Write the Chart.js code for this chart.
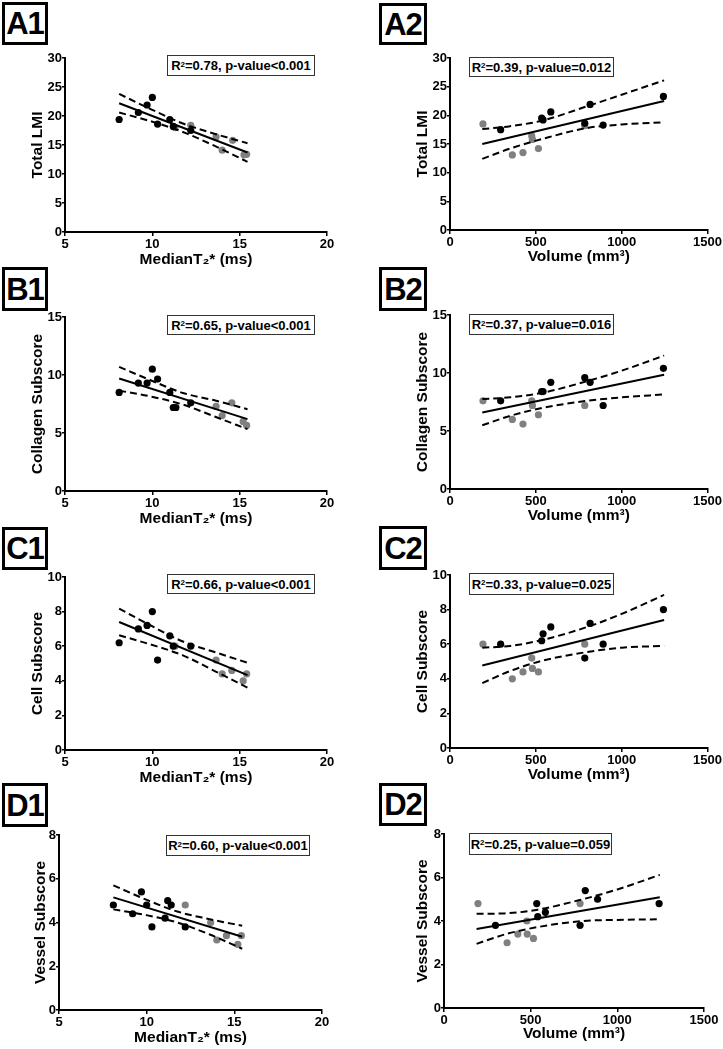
<!DOCTYPE html>
<html><head><meta charset="utf-8">
<script src="https://cdn.jsdelivr.net/npm/chart.js@4.4.0/dist/chart.umd.min.js"></script>
<style>
html,body{margin:0;padding:0;background:#fff;}
body{width:723px;height:1049px;position:relative;overflow:hidden;font-family:"Liberation Sans",Arial,sans-serif;}
canvas{position:absolute;}
.lbl{position:absolute;box-sizing:border-box;border:3px solid #000;font-weight:bold;font-size:31px;line-height:1;display:flex;align-items:center;justify-content:center;letter-spacing:-1px;color:#000;background:#fff;}
.stat{position:absolute;box-sizing:border-box;border:1px solid #333;font-weight:bold;font-size:13px;display:flex;align-items:center;justify-content:center;white-space:nowrap;background:#fff;color:#000;}
.stat sup{font-size:8px;line-height:1;position:relative;top:-1px;vertical-align:top;}
</style></head><body>
<script>
// ---------- tick labels ----------
const t2Ticks = [5, 10, 15, 20];
const volTicks = [0, 500, 1000, 1500];
const lmiTicks = [0, 5, 10, 15, 20, 25, 30];
const collagenTicks = [0, 5, 10, 15];
const cellTicks = [0, 2, 4, 6, 8, 10];
const vesselTicks = [0, 2, 4, 6, 8];

// ---------- A1: Total LMI vs MedianT2* ----------
const a1Black = [[8.1,19.4],[9.2,20.6],[9.7,21.9],[10.0,23.2],[10.3,18.6],[11.0,19.4],[11.2,18.2],[12.2,17.5]];
const a1Gray  = [[11.3,18.0],[12.2,18.4],[13.65,16.4],[14.0,14.1],[14.6,15.8],[15.25,13.3],[15.4,13.4]];
const a1Fit   = [[8.1,22.2],[15.45,13.7]];
const a1Upper = [[8.1,23.8],[9.9,21.2],[11.75,18.7],[13.6,16.9],[15.45,15.3]];
const a1Lower = [[8.1,20.6],[9.9,19.1],[11.75,17.25],[13.6,14.8],[15.45,12.1]];

// ---------- A2: Total LMI vs Volume ----------
const a2Black = [[295,17.5],[534,19.5],[542,19.2],[587,20.6],[785,18.6],[816,21.9],[892,18.3],[1243,23.3]];
const a2Gray  = [[192,18.5],[363,13.1],[425,13.5],[476,16.4],[480,15.8],[515,14.2],[785,18.2]];
const a2Fit   = [[188,15.0],[1247,22.5]];
const a2Upper = [[188,17.6],[350,18.1],[540,19.1],[800,21.6],[1000,23.6],[1247,26.1]];
const a2Lower = [[188,12.4],[350,14.2],[540,15.9],[800,17.8],[1000,18.4],[1247,18.8]];

// ---------- B1: Collagen Subscore vs MedianT2* ----------
const b1Black = [[8.1,8.5],[9.2,9.3],[9.7,9.3],[10.0,10.5],[10.3,9.65],[11.0,8.5],[11.2,7.2],[11.35,7.2],[12.2,7.6]];
const b1Gray  = [[13.65,7.3],[14.0,6.5],[14.55,7.6],[15.2,6.0],[15.4,5.65]];
const b1Fit   = [[8.1,9.7],[15.45,6.2]];
const b1Upper = [[8.1,10.7],[9.9,9.55],[11.75,8.45],[13.6,7.8],[15.45,7.05]];
const b1Lower = [[8.1,8.65],[9.9,8.15],[11.75,7.45],[13.6,6.4],[15.45,5.33]];

// ---------- B2: Collagen Subscore vs Volume ----------
const b2Black = [[295,7.6],[534,8.4],[542,8.4],[587,9.2],[785,9.6],[816,9.2],[892,7.2],[1243,10.4]];
const b2Gray  = [[192,7.6],[363,6.0],[425,5.6],[476,7.6],[480,7.2],[515,6.4],[785,7.2]];
const b2Fit   = [[188,6.6],[1247,9.85]];
const b2Upper = [[188,7.75],[350,7.9],[540,8.3],[800,9.3],[1000,10.2],[1247,11.5]];
const b2Lower = [[188,5.5],[350,6.3],[540,7.0],[800,7.6],[1000,7.9],[1247,8.15]];

// ---------- C1: Cell Subscore vs MedianT2* ----------
const c1Black = [[8.1,6.2],[9.2,7.0],[9.7,7.2],[10.0,8.0],[10.3,5.2],[11.0,6.6],[11.2,6.0],[12.2,6.0]];
const c1Gray  = [[11.3,6.0],[13.65,5.2],[14.0,4.4],[14.55,4.6],[15.2,4.0],[15.4,4.4]];
const c1Fit   = [[8.1,7.4],[15.45,4.33]];
const c1Upper = [[8.1,8.17],[9.9,7.2],[11.75,6.27],[13.6,5.65],[15.45,5.04]];
const c1Lower = [[8.1,6.63],[9.9,6.1],[11.75,5.47],[13.6,4.55],[15.45,3.6]];

// ---------- C2: Cell Subscore vs Volume ----------
const c2Black = [[295,6.0],[534,6.2],[542,6.6],[587,7.0],[785,5.2],[816,7.2],[892,6.0],[1243,8.0]];
const c2Gray  = [[192,6.0],[363,4.0],[425,4.4],[476,5.2],[480,4.6],[515,4.4],[785,6.0]];
const c2Fit   = [[188,4.77],[1247,7.4]];
const c2Upper = [[188,5.8],[350,5.9],[540,6.25],[800,7.0],[1000,7.75],[1247,8.85]];
const c2Lower = [[188,3.75],[350,4.45],[540,5.05],[800,5.55],[1000,5.8],[1247,5.9]];

// ---------- D1: Vessel Subscore vs MedianT2* ----------
const d1Black = [[8.1,4.8],[9.2,4.4],[9.7,5.4],[10.0,4.8],[10.3,3.8],[11.05,4.2],[11.2,5.0],[11.4,4.8],[12.2,3.8]];
const d1Gray  = [[12.2,4.8],[13.65,4.0],[14.0,3.2],[14.55,3.4],[15.2,3.0],[15.4,3.4]];
const d1Fit   = [[8.1,5.15],[15.45,3.35]];
const d1Upper = [[8.1,5.7],[9.9,5.07],[11.75,4.5],[13.6,4.15],[15.45,3.85]];
const d1Lower = [[8.1,4.6],[9.9,4.35],[11.75,4.0],[13.6,3.45],[15.45,2.8]];

// ---------- D2: Vessel Subscore vs Volume ----------
const d2Black = [[297,3.8],[535,4.8],[541,4.2],[585,4.4],[785,3.8],[815,5.4],[886,5.0],[1241,4.8]];
const d2Gray  = [[196,4.8],[364,3.0],[426,3.4],[478,4.0],[480,3.4],[516,3.2],[785,4.8]];
const d2Fit   = [[188,3.63],[1245,5.09]];
const d2Upper = [[188,4.33],[350,4.35],[540,4.52],[800,5.0],[1000,5.45],[1245,6.12]];
const d2Lower = [[188,2.95],[350,3.38],[540,3.72],[800,4.0],[1000,4.05],[1245,4.08]];

// ---------- texts ----------
const t2Title = 'MedianT\u2082* (ms)';
const volTitle = 'Volume (mm\u00B3)';
const panelLabels = ['A1','A2','B1','B2','C1','C2','D1','D2'];
const statTexts = [
  ['0.78','p-value<0.001'], ['0.39','p-value=0.012'],
  ['0.65','p-value<0.001'], ['0.37','p-value=0.016'],
  ['0.66','p-value<0.001'], ['0.33','p-value=0.025'],
  ['0.60','p-value<0.001'], ['0.25','p-value=0.059']
];

// ---------- layout (positions only) ----------
const layouts = [
  {cv:[0,0,361,272],     area:[65,327,58,232],   yT:38,  xT:259.5, lbl:[2,2,46,43],    st:[167,55,148,21]},
  {cv:[361,0,362,272],   area:[450,708,58,230],  yT:423, xT:257,   lbl:[379,3,48,42],  st:[469,57,145,20]},
  {cv:[0,260,361,272],   area:[65,327,317,491],  yT:38,  xT:518.5, lbl:[2,267,46,44],  st:[167,315,148,20]},
  {cv:[361,260,362,272], area:[450,708,315,489], yT:423, xT:516,   lbl:[379,267,48,44],st:[469,314,145,21]},
  {cv:[0,520,361,272],   area:[65,327,577,750],  yT:38,  xT:777.5, lbl:[2,527,46,43],  st:[167,574,148,20]},
  {cv:[361,520,362,272], area:[450,708,575,748], yT:423, xT:775,   lbl:[379,526,48,44],st:[469,573,145,22]},
  {cv:[0,780,361,269],   area:[59,322,835,1010], yT:41,  xT:1037.5,lbl:[2,783,46,44],  st:[166,835,144,21]},
  {cv:[361,780,362,269], area:[444,704,834,1008],yT:423, xT:1034,  lbl:[379,783,48,43],st:[469,833,143,22]}
];

const panels = [
  {xt:t2Ticks,  yt:lmiTicks,      xTitle:t2Title,  yTitle:'Total LMI',         black:a1Black, gray:a1Gray, fit:a1Fit, up:a1Upper, lo:a1Lower},
  {xt:volTicks, yt:lmiTicks,      xTitle:volTitle, yTitle:'Total LMI',         black:a2Black, gray:a2Gray, fit:a2Fit, up:a2Upper, lo:a2Lower},
  {xt:t2Ticks,  yt:collagenTicks, xTitle:t2Title,  yTitle:'Collagen Subscore', black:b1Black, gray:b1Gray, fit:b1Fit, up:b1Upper, lo:b1Lower},
  {xt:volTicks, yt:collagenTicks, xTitle:volTitle, yTitle:'Collagen Subscore', black:b2Black, gray:b2Gray, fit:b2Fit, up:b2Upper, lo:b2Lower},
  {xt:t2Ticks,  yt:cellTicks,     xTitle:t2Title,  yTitle:'Cell Subscore',     black:c1Black, gray:c1Gray, fit:c1Fit, up:c1Upper, lo:c1Lower},
  {xt:volTicks, yt:cellTicks,     xTitle:volTitle, yTitle:'Cell Subscore',     black:c2Black, gray:c2Gray, fit:c2Fit, up:c2Upper, lo:c2Lower},
  {xt:t2Ticks,  yt:vesselTicks,   xTitle:t2Title,  yTitle:'Vessel Subscore',   black:d1Black, gray:d1Gray, fit:d1Fit, up:d1Upper, lo:d1Lower},
  {xt:volTicks, yt:vesselTicks,   xTitle:volTitle, yTitle:'Vessel Subscore',   black:d2Black, gray:d2Gray, fit:d2Fit, up:d2Upper, lo:d2Lower}
];

const FAM = '"Liberation Sans", Arial, sans-serif';
const TICK_FONT = {family: FAM, size: 13, weight: 'bold'};
const TITLE_FONT = {family: FAM, size: 15.5, weight: 'bold', lineHeight: 1.2};
const LH = 15.5 * 1.2;
const pts = a => a.map(([x, y]) => ({x, y}));

panels.forEach((p, i) => {
  const L = layouts[i];
  const [cx, cy, cw, ch] = L.cv;
  const [al, ar, at, ab] = L.area;
  const padLeft = L.yT - cx - LH / 2;
  const yWidth = al - cx - padLeft;
  const padTop = at - cy;
  const padRight = cx + cw - ar;
  const xBottom = L.xT + LH / 2;
  const padBottom = cy + ch - xBottom;
  const xHeight = xBottom - ab;

  const c = document.createElement('canvas');
  c.width = cw; c.height = ch;
  c.style.left = cx + 'px'; c.style.top = cy + 'px';
  c.style.width = cw + 'px'; c.style.height = ch + 'px';
  document.body.appendChild(c);

  const axisCommon = {
    type: 'linear',
    border: {display: true, color: '#000', width: 2},
    grid: {display: true, drawOnChartArea: false, drawTicks: true, color: '#000', lineWidth: 1.5},
    ticks: {color: '#000', font: TICK_FONT, autoSkip: false, maxRotation: 0, callback: v => String(v)}
  };

  new Chart(c, {
    type: 'scatter',
    data: {datasets: [
      {data: pts(p.fit), showLine: true, borderColor: '#000', borderWidth: 2, pointRadius: 0, fill: false},
      {data: pts(p.up), showLine: true, borderColor: '#000', borderWidth: 2, borderDash: [7, 4], pointRadius: 0, fill: false, cubicInterpolationMode: 'monotone'},
      {data: pts(p.lo), showLine: true, borderColor: '#000', borderWidth: 2, borderDash: [7, 4], pointRadius: 0, fill: false, cubicInterpolationMode: 'monotone'},
      {data: pts(p.black), pointRadius: 3.6, pointBackgroundColor: '#000', pointBorderWidth: 0, showLine: false},
      {data: pts(p.gray), pointRadius: 3.6, pointBackgroundColor: '#808080', pointBorderWidth: 0, showLine: false}
    ]},
    options: {
      responsive: false, animation: false, devicePixelRatio: 1, events: [],
      layout: {padding: {left: padLeft, right: padRight, top: padTop, bottom: padBottom}},
      plugins: {legend: {display: false}, tooltip: {enabled: false}, title: {display: false}},
      scales: {
        x: Object.assign({}, axisCommon, {
          position: 'bottom',
          min: p.xt[0], max: p.xt[p.xt.length - 1],
          grid: Object.assign({}, axisCommon.grid, {tickLength: 4}),
          ticks: Object.assign({}, axisCommon.ticks, {padding: 1}),
          afterBuildTicks: s => { s.ticks = p.xt.map(v => ({value: v})); },
          afterFit: s => { s.height = xHeight; },
          title: {display: true, text: p.xTitle, color: '#000', font: TITLE_FONT, padding: 0}
        }),
        y: Object.assign({}, axisCommon, {
          position: 'left',
          min: p.yt[0], max: p.yt[p.yt.length - 1],
          grid: Object.assign({}, axisCommon.grid, {tickLength: 3}),
          ticks: Object.assign({}, axisCommon.ticks, {padding: 0}),
          afterBuildTicks: s => { s.ticks = p.yt.map(v => ({value: v})); },
          afterFit: s => { s.width = yWidth; },
          title: {display: true, text: p.yTitle, color: '#000', font: TITLE_FONT, padding: 0}
        })
      }
    }
  });

  const lb = document.createElement('div');
  lb.className = 'lbl';
  lb.textContent = panelLabels[i];
  lb.style.left = L.lbl[0] + 'px'; lb.style.top = L.lbl[1] + 'px';
  lb.style.width = L.lbl[2] + 'px'; lb.style.height = L.lbl[3] + 'px';
  document.body.appendChild(lb);

  const st = document.createElement('div');
  st.className = 'stat';
  st.innerHTML = 'R<sup>2</sup>=' + statTexts[i][0] + ', ' + statTexts[i][1].replace('<', '&lt;');
  st.style.left = L.st[0] + 'px'; st.style.top = L.st[1] + 'px';
  st.style.width = L.st[2] + 'px'; st.style.height = L.st[3] + 'px';
  document.body.appendChild(st);
});
</script>
</body></html>
